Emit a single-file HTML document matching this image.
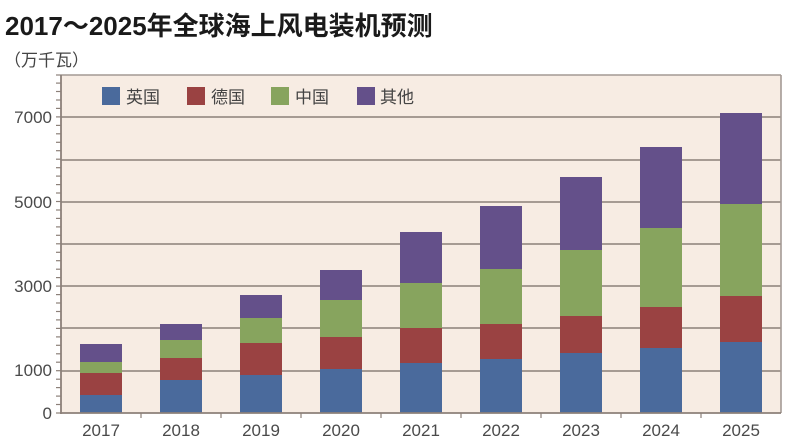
<!DOCTYPE html>
<html><head><meta charset="utf-8"><style>
html,body{margin:0;padding:0;background:#fff;}
svg{display:block;}
</style></head><body>
<svg width="812" height="444" viewBox="0 0 812 444" xmlns="http://www.w3.org/2000/svg">
<rect width="812" height="444" fill="#ffffff"/>
<text x="5" y="35" font-family="'Liberation Sans','Noto Sans CJK SC',sans-serif" font-size="26" font-weight="bold" fill="#1a1a1a">2017～2025年全球海上风电装机预测</text>
<text x="4" y="66" font-family="'Liberation Sans','Noto Sans CJK SC',sans-serif" font-size="17" fill="#444">（万千瓦）</text>
<rect x="61" y="75" width="720" height="338" fill="#f7ece3"/>
<g stroke="#8c8079" stroke-width="1.6">
<line x1="61" y1="117" x2="781" y2="117"/>
<line x1="61" y1="160" x2="781" y2="160"/>
<line x1="61" y1="202" x2="781" y2="202"/>
<line x1="61" y1="244" x2="781" y2="244"/>
<line x1="61" y1="286" x2="781" y2="286"/>
<line x1="61" y1="328" x2="781" y2="328"/>
<line x1="61" y1="371" x2="781" y2="371"/>
</g>
<g stroke="#a39a94" stroke-width="1.6" fill="none">
<line x1="61" y1="75" x2="781" y2="75"/>
<line x1="781" y1="75" x2="781" y2="413"/>
</g>
<g id="bars">
<rect x="80" y="395" width="42" height="18" fill="#4a6a9c"/><rect x="80" y="373" width="42" height="22" fill="#9a4242"/><rect x="80" y="362" width="42" height="11" fill="#87a45e"/><rect x="80" y="344" width="42" height="18" fill="#64508a"/>
<rect x="160" y="380" width="42" height="33" fill="#4a6a9c"/><rect x="160" y="358" width="42" height="22" fill="#9a4242"/><rect x="160" y="340" width="42" height="18" fill="#87a45e"/><rect x="160" y="324" width="42" height="16" fill="#64508a"/>
<rect x="240" y="375" width="42" height="38" fill="#4a6a9c"/><rect x="240" y="343" width="42" height="32" fill="#9a4242"/><rect x="240" y="318" width="42" height="25" fill="#87a45e"/><rect x="240" y="295" width="42" height="23" fill="#64508a"/>
<rect x="320" y="369" width="42" height="44" fill="#4a6a9c"/><rect x="320" y="337" width="42" height="32" fill="#9a4242"/><rect x="320" y="300" width="42" height="37" fill="#87a45e"/><rect x="320" y="270" width="42" height="30" fill="#64508a"/>
<rect x="400" y="363" width="42" height="50" fill="#4a6a9c"/><rect x="400" y="328" width="42" height="35" fill="#9a4242"/><rect x="400" y="283" width="42" height="45" fill="#87a45e"/><rect x="400" y="232" width="42" height="51" fill="#64508a"/>
<rect x="480" y="359" width="42" height="54" fill="#4a6a9c"/><rect x="480" y="324" width="42" height="35" fill="#9a4242"/><rect x="480" y="269" width="42" height="55" fill="#87a45e"/><rect x="480" y="206" width="42" height="63" fill="#64508a"/>
<rect x="560" y="353" width="42" height="60" fill="#4a6a9c"/><rect x="560" y="316" width="42" height="37" fill="#9a4242"/><rect x="560" y="250" width="42" height="66" fill="#87a45e"/><rect x="560" y="177" width="42" height="73" fill="#64508a"/>
<rect x="640" y="348" width="42" height="65" fill="#4a6a9c"/><rect x="640" y="307" width="42" height="41" fill="#9a4242"/><rect x="640" y="228" width="42" height="79" fill="#87a45e"/><rect x="640" y="147" width="42" height="81" fill="#64508a"/>
<rect x="720" y="342" width="42" height="71" fill="#4a6a9c"/><rect x="720" y="296" width="42" height="46" fill="#9a4242"/><rect x="720" y="204" width="42" height="92" fill="#87a45e"/><rect x="720" y="113" width="42" height="91" fill="#64508a"/>
</g>
<g stroke="#8c8079" stroke-width="1.8">
<line x1="61" y1="75" x2="61" y2="414"/>
<line x1="60" y1="413" x2="781" y2="413"/>
</g>
<g stroke="#8c8079" stroke-width="1.2">
<line x1="56" y1="413" x2="61" y2="413"/><line x1="56" y1="404.5" x2="61" y2="404.5"/><line x1="56" y1="396.1" x2="61" y2="396.1"/><line x1="56" y1="387.6" x2="61" y2="387.6"/><line x1="56" y1="379.2" x2="61" y2="379.2"/><line x1="56" y1="370.7" x2="61" y2="370.7"/><line x1="56" y1="362.2" x2="61" y2="362.2"/><line x1="56" y1="353.8" x2="61" y2="353.8"/><line x1="56" y1="345.3" x2="61" y2="345.3"/><line x1="56" y1="336.9" x2="61" y2="336.9"/><line x1="56" y1="328.4" x2="61" y2="328.4"/><line x1="56" y1="319.9" x2="61" y2="319.9"/><line x1="56" y1="311.5" x2="61" y2="311.5"/><line x1="56" y1="303" x2="61" y2="303"/><line x1="56" y1="294.6" x2="61" y2="294.6"/><line x1="56" y1="286.1" x2="61" y2="286.1"/><line x1="56" y1="277.6" x2="61" y2="277.6"/><line x1="56" y1="269.2" x2="61" y2="269.2"/><line x1="56" y1="260.7" x2="61" y2="260.7"/><line x1="56" y1="252.3" x2="61" y2="252.3"/><line x1="56" y1="243.8" x2="61" y2="243.8"/><line x1="56" y1="235.3" x2="61" y2="235.3"/><line x1="56" y1="226.9" x2="61" y2="226.9"/><line x1="56" y1="218.4" x2="61" y2="218.4"/><line x1="56" y1="210" x2="61" y2="210"/><line x1="56" y1="201.5" x2="61" y2="201.5"/><line x1="56" y1="193" x2="61" y2="193"/><line x1="56" y1="184.6" x2="61" y2="184.6"/><line x1="56" y1="176.1" x2="61" y2="176.1"/><line x1="56" y1="167.7" x2="61" y2="167.7"/><line x1="56" y1="159.2" x2="61" y2="159.2"/><line x1="56" y1="150.7" x2="61" y2="150.7"/><line x1="56" y1="142.3" x2="61" y2="142.3"/><line x1="56" y1="133.8" x2="61" y2="133.8"/><line x1="56" y1="125.4" x2="61" y2="125.4"/><line x1="56" y1="116.9" x2="61" y2="116.9"/><line x1="56" y1="108.4" x2="61" y2="108.4"/><line x1="56" y1="100" x2="61" y2="100"/><line x1="56" y1="91.5" x2="61" y2="91.5"/><line x1="56" y1="83.1" x2="61" y2="83.1"/><line x1="56" y1="75" x2="61" y2="75"/>
<line x1="141" y1="413" x2="141" y2="418"/><line x1="221" y1="413" x2="221" y2="418"/><line x1="301" y1="413" x2="301" y2="418"/><line x1="381" y1="413" x2="381" y2="418"/><line x1="461" y1="413" x2="461" y2="418"/><line x1="541" y1="413" x2="541" y2="418"/><line x1="621" y1="413" x2="621" y2="418"/><line x1="701" y1="413" x2="701" y2="418"/>
</g>
<g font-family="'Liberation Sans',sans-serif" font-size="17" fill="#4a4a4a" text-anchor="end">
<text x="52" y="123">7000</text>
<text x="52" y="208">5000</text>
<text x="52" y="292">3000</text>
<text x="52" y="376">1000</text>
<text x="52" y="419">0</text>
</g>
<g font-family="'Liberation Sans',sans-serif" font-size="17" fill="#4a4a4a" text-anchor="middle">
<text x="101" y="436">2017</text>
<text x="181" y="436">2018</text>
<text x="261" y="436">2019</text>
<text x="341" y="436">2020</text>
<text x="421" y="436">2021</text>
<text x="501" y="436">2022</text>
<text x="581" y="436">2023</text>
<text x="661" y="436">2024</text>
<text x="741" y="436">2025</text>
</g>
<rect x="102" y="87" width="18" height="18" fill="#4a6a9c"/>
<rect x="187" y="87" width="18" height="18" fill="#9a4242"/>
<rect x="271" y="87" width="18" height="18" fill="#87a45e"/>
<rect x="357" y="87" width="18" height="18" fill="#64508a"/>
<g font-family="'Liberation Sans','Noto Sans CJK SC',sans-serif" font-size="17" fill="#444">
<text x="126" y="103">英国</text>
<text x="211" y="103">德国</text>
<text x="295" y="103">中国</text>
<text x="380" y="103">其他</text>
</g>
</svg>
</body></html>
